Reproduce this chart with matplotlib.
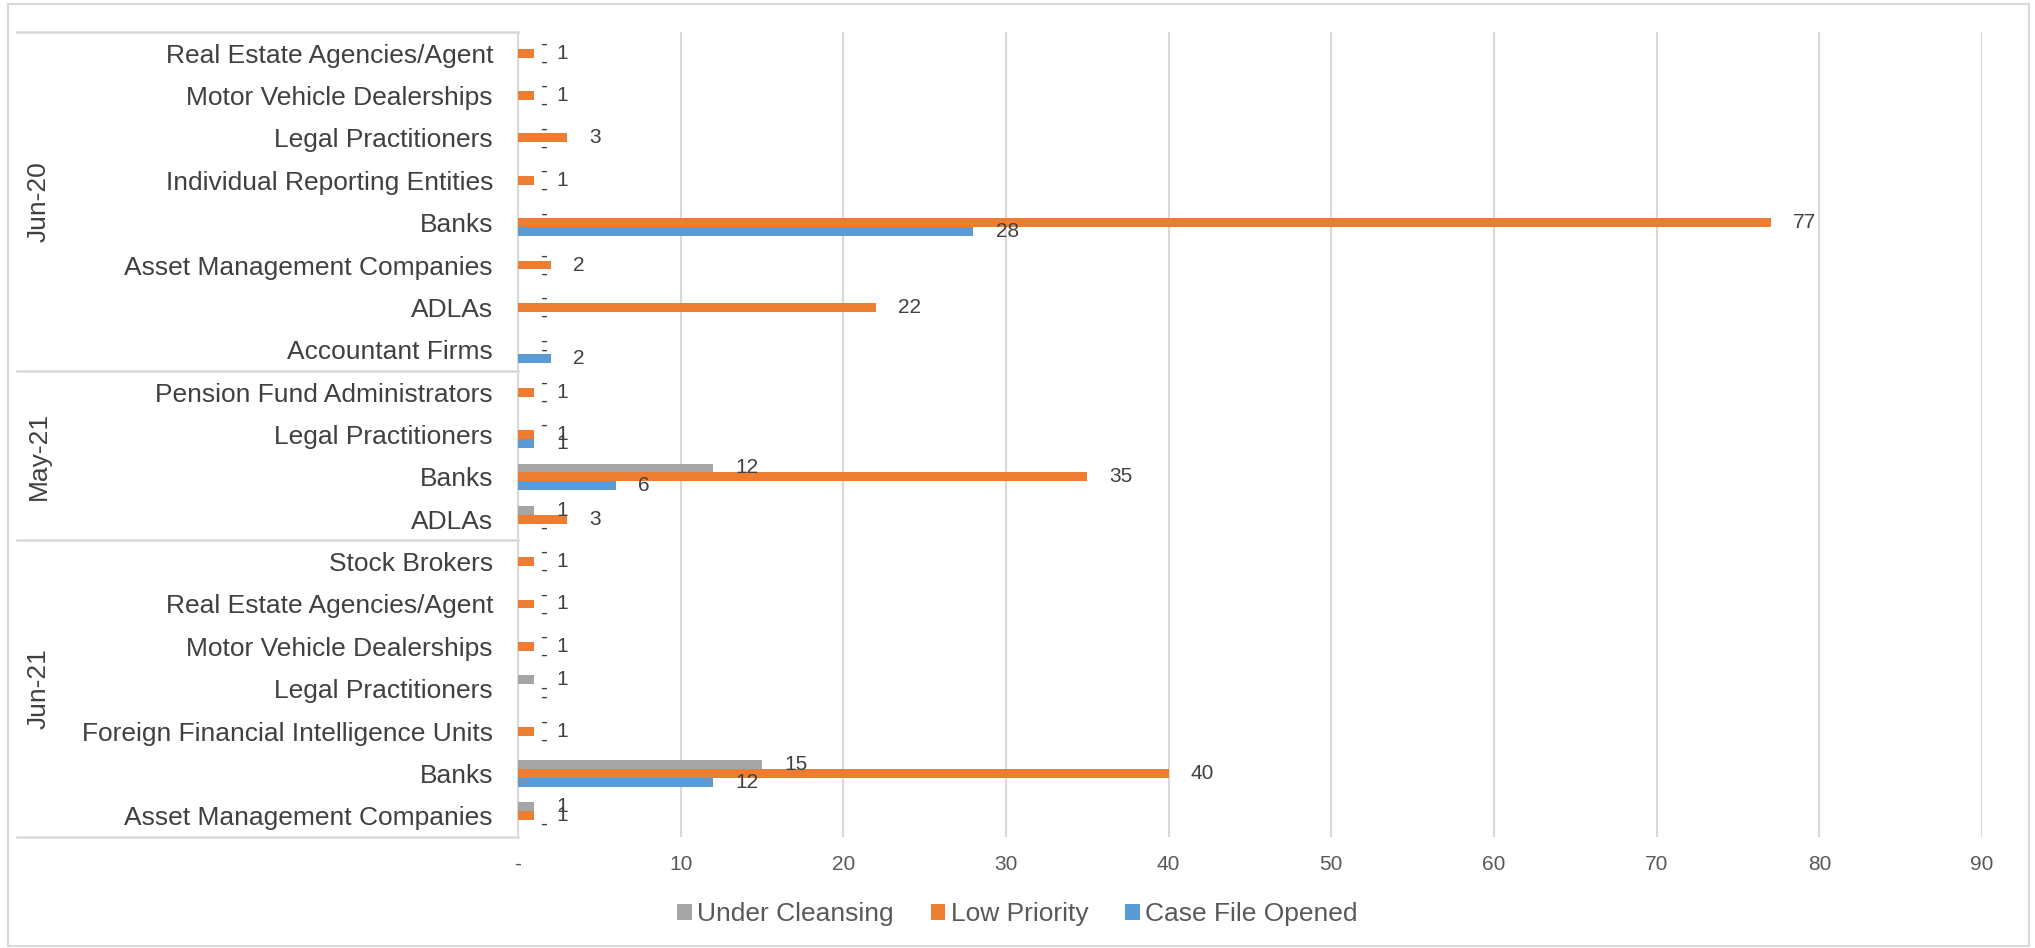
import numpy as np
import matplotlib
matplotlib.use("Agg")
import matplotlib.pyplot as plt
import matplotlib.transforms as mtransforms

plt.rcParams['font.family'] = ['Liberation Sans', 'DejaVu Sans']

# rows listed top to bottom, grouped by reporting month
groups = ["Jun-20", "May-21", "Jun-21"]
group_rows = [
    ["Real Estate Agencies/Agent", "Motor Vehicle Dealerships", "Legal Practitioners",
     "Individual Reporting Entities", "Banks", "Asset Management Companies",
     "ADLAs", "Accountant Firms"],
    ["Pension Fund Administrators", "Legal Practitioners", "Banks", "ADLAs"],
    ["Stock Brokers", "Real Estate Agencies/Agent", "Motor Vehicle Dealerships",
     "Legal Practitioners", "Foreign Financial Intelligence Units", "Banks",
     "Asset Management Companies"],
]

under_cleansing = [0, 0, 0, 0, 0, 0, 0, 0,
                   0, 0, 12, 1,
                   0, 0, 0, 1, 0, 15, 1]
low_priority = [1, 1, 3, 1, 77, 2, 22, 0,
                1, 1, 35, 3,
                1, 1, 1, 0, 1, 40, 1]
case_file_opened = [0, 0, 0, 0, 28, 0, 0, 2,
                    0, 1, 6, 0,
                    0, 0, 0, 0, 0, 12, 0]

series = [("Under Cleansing", under_cleansing, "#A5A5A5"),
          ("Low Priority", low_priority, "#ED7D31"),
          ("Case File Opened", case_file_opened, "#5B9BD5")]

labels = [r for g in group_rows for r in g]
n = len(labels)
y = np.arange(n)
h = 0.21

W, H = 2035, 948
fig = plt.figure(figsize=(W / 100, H / 100), dpi=100)
left, right, top, bottom = 518, 1982, 32, 837
ax = fig.add_axes([left / W, 1 - bottom / H, (right - left) / W, (bottom - top) / H])

text_col = "#404040"
grid_col = "#D9D9D9"

for k, (name, vals, col) in enumerate(series):
    yy = y + (k - 1) * h
    ax.barh(yy, vals, height=h, color=col, label=name, zorder=3)
    for yi, v in zip(yy, vals):
        ax.annotate("-" if v == 0 else str(v), (v, yi), xytext=(16, 0),
                    textcoords="offset points", ha="left", va="center",
                    fontsize=15, color=text_col, zorder=4)

ax.set_xlim(0, 90)
ax.set_ylim(n - 0.5, -0.5)
ax.set_xticks(np.arange(0, 91, 10))
ax.set_xticklabels(["-"] + [str(t) for t in range(10, 91, 10)])
ax.tick_params(axis="x", length=0, pad=13, labelsize=15, labelcolor="#595959")
ax.set_yticks(y)
ax.set_yticklabels(labels)
ax.tick_params(axis="y", length=0, pad=18, labelsize=19, labelcolor=text_col)
ax.grid(axis="x", color=grid_col, linewidth=1.5, zorder=0)
for s in ["top", "right", "bottom"]:
    ax.spines[s].set_visible(False)
ax.spines["left"].set_color(grid_col)
ax.spines["left"].set_linewidth(1.5)

# group separators and rotated month labels on the category axis
trans = mtransforms.blended_transform_factory(fig.transFigure, ax.transData)
x0 = 17 / W
start = 0
edges = [-0.5]
for g, rows in zip(groups, group_rows):
    end = start + len(rows)
    edges.append(end - 0.5)
    fig.text(39 / W, 0, g, rotation=90, ha="center", va="center", fontsize=19,
             color=text_col, transform=trans).set_y((start + end - 1) / 2)
    start = end
for e in edges:
    ax.plot([x0, left / W], [e, e], transform=trans, color=grid_col,
            linewidth=1.8, clip_on=False)

fig.legend(loc="center", bbox_to_anchor=(0.5, 1 - 914 / H), ncol=3, frameon=False,
           fontsize=19, handlelength=0.55, handleheight=0.55, handletextpad=0.2,
           columnspacing=1.4, labelcolor="#595959")

# thin frame round the whole chart
fig.patches.append(plt.Rectangle((8 / W, 2 / H), 1 - 14 / W, 1 - 6 / H,
                                 transform=fig.transFigure, fill=False,
                                 edgecolor=grid_col, linewidth=1.5))

fig.savefig("out.png", dpi=100)
